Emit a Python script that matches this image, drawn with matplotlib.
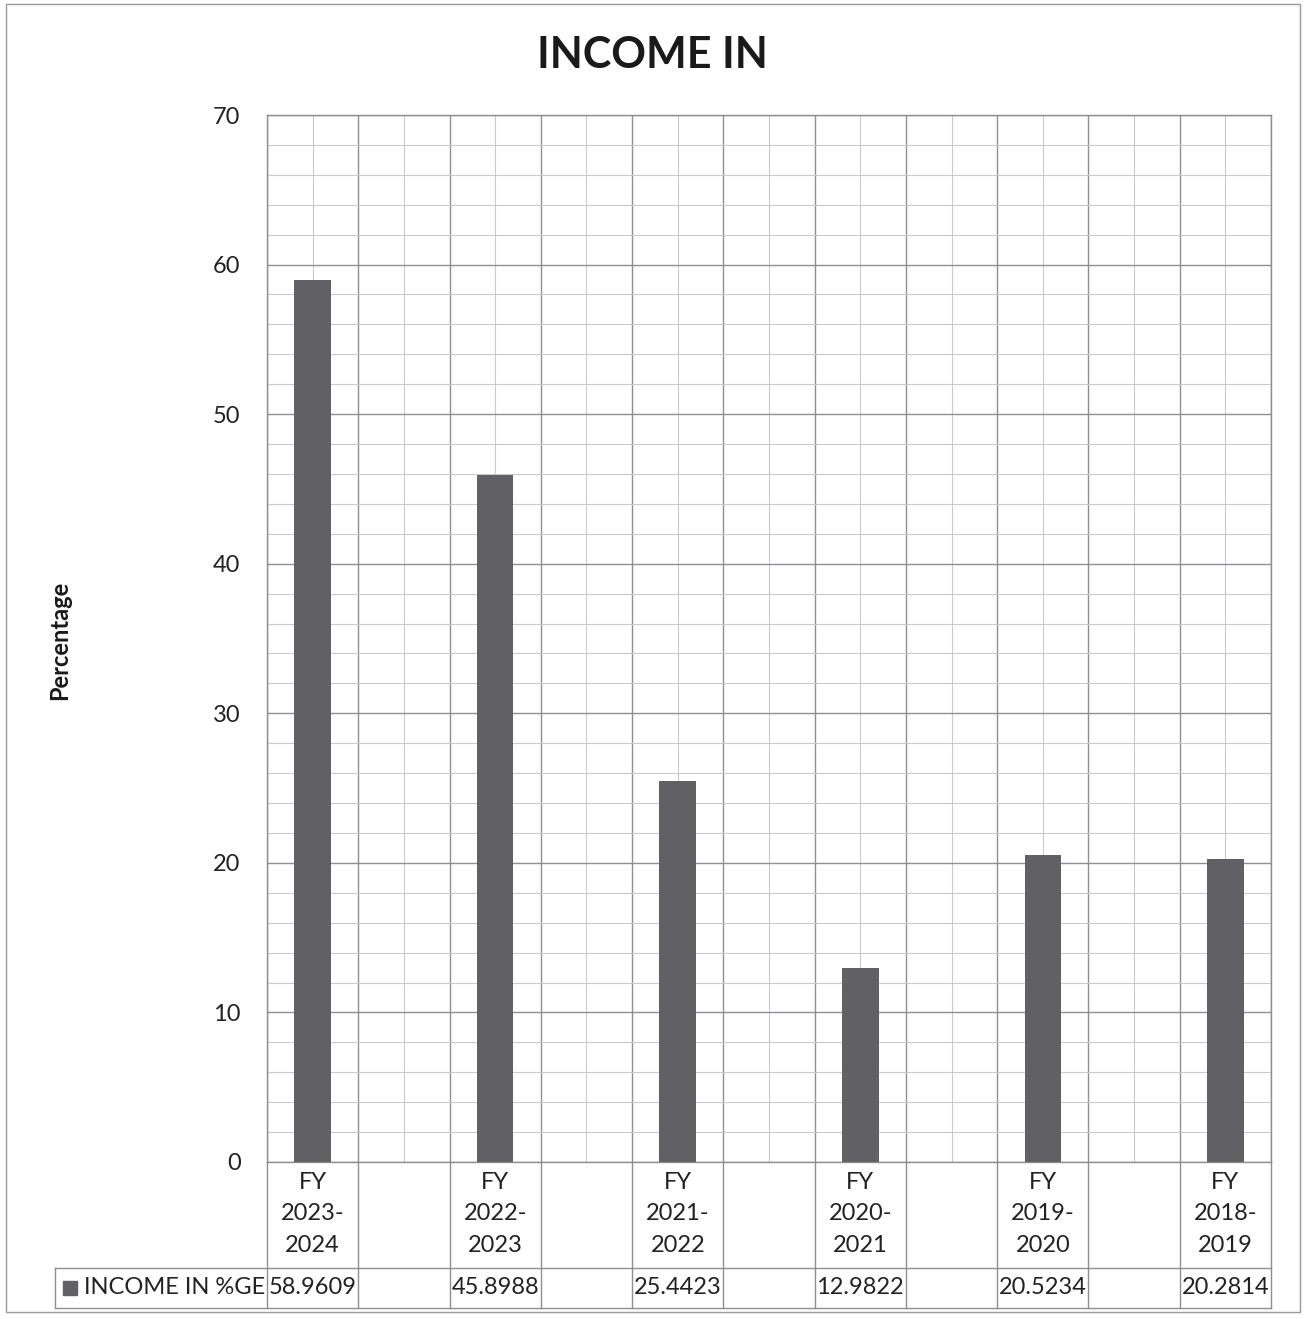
import matplotlib
matplotlib.use('Agg')
import matplotlib.pyplot as plt
import matplotlib.transforms as mtransforms
from matplotlib.patches import Rectangle
import numpy as np

# data (blank slots between years as in the original sheet)
categories = ['FY\n2023-\n2024', '', 'FY\n2022-\n2023', '', 'FY\n2021-\n2022', '',
              'FY\n2020-\n2021', '', 'FY\n2019-\n2020', '', 'FY\n2018-\n2019']
income_pct = [58.9609, None, 45.8988, None, 25.4423, None,
              12.9822, None, 20.5234, None, 20.2814]
series_name = 'INCOME IN %GE'

bar_color = '#616165'
major_grid = '#8e8e96'
minor_grid = '#c9c9d1'
font = 'Lato'

plt.rcParams['font.family'] = [font, 'DejaVu Sans']

fig = plt.figure(figsize=(13.05, 13.19), dpi=100)
W, H = 1305, 1319
ax = fig.add_axes([267 / W, 1 - 1162 / H, (1271 - 267) / W, (1162 - 115) / H])

x = np.arange(len(categories))
vals = [v if v is not None else 0 for v in income_pct]
mask = [v is not None for v in income_pct]
ax.bar(x[mask], np.array(vals)[mask], width=0.4, color=bar_color, zorder=3)

ax.set_xlim(-0.5, len(categories) - 0.5)
ax.set_ylim(0, 70)
ax.set_yticks(np.arange(0, 71, 10))
ax.set_yticks(np.arange(0, 71, 2), minor=True)
ax.set_xticks(np.arange(-0.5, len(categories), 1))
ax.set_xticks(x, minor=True)
ax.tick_params(which='both', length=0)
ax.tick_params(axis='y', labelsize=17, colors='#222222', pad=19)
ax.set_xticklabels([])
ax.grid(which='major', color=major_grid, lw=1.0, zorder=0)
ax.grid(which='minor', color=minor_grid, lw=0.8, zorder=0)
for s in ax.spines.values():
    s.set_color(major_grid)
    s.set_linewidth(1.0)

fig.text(652 / W, 1 - 55 / H, 'INCOME IN', fontsize=31, fontweight='bold',
         ha='center', va='center', color='#1a1a1a')
fig.text(60 / W, 1 - 640 / H, 'Percentage', rotation=90, fontsize=17,
         fontweight='bold', ha='center', va='center', color='#1a1a1a')

# data table below the plot
tr = mtransforms.blended_transform_factory(ax.transData, ax.transAxes)
ph = 1047.0
y_sep = -(1268 - 1162) / ph
y_bot = -(1308 - 1162) / ph
for b in np.arange(-0.5, len(categories), 1):
    ax.plot([b, b], [0, y_bot], transform=tr, color=major_grid, lw=1.0, clip_on=False)
x_left = (55 - 267) / 1004.0
for yy in (y_sep, y_bot):
    ax.plot([x_left, 1], [yy, yy], transform=ax.transAxes, color=major_grid,
            lw=1.0, clip_on=False)
ax.plot([x_left, x_left], [y_sep, y_bot], transform=ax.transAxes, color=major_grid,
        lw=1.0, clip_on=False)

for xi, lab, v in zip(x, categories, income_pct):
    if lab:
        ax.text(xi, -(1214 - 1162) / ph, lab, transform=tr, ha='center', va='center',
                fontsize=17, color='#222222', linespacing=1.6)
    if v is not None:
        ax.text(xi, (y_sep + y_bot) / 2, f'{v:.4f}', transform=tr, ha='center',
                va='center', fontsize=17, color='#222222')

ax.add_patch(Rectangle(((63 - 267) / 1004.0, -(1295 - 1162) / ph), 14 / 1004.0, 14 / ph,
                       transform=ax.transAxes, color=bar_color, clip_on=False))
ax.text((84 - 267) / 1004.0, (y_sep + y_bot) / 2, series_name, transform=ax.transAxes,
        ha='left', va='center', fontsize=17, color='#222222')

# outer chart frame
fig.add_artist(Rectangle((6 / W, 1 - 1312 / H), (1300 - 6) / W, (1312 - 4) / H,
                         transform=fig.transFigure, fill=False, ec='#9a9a9a', lw=1.0))

fig.savefig('out.png', dpi=100, facecolor='white')
